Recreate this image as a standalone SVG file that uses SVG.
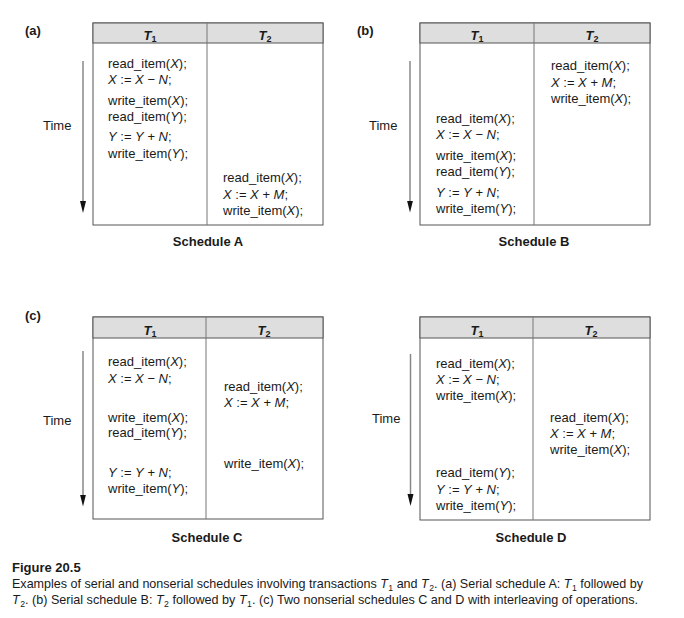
<svg xmlns="http://www.w3.org/2000/svg" width="684" height="618" viewBox="0 0 684 618">
<style>
text{font-family:"Liberation Sans",Arial,Helvetica,sans-serif;fill:#1a1a1a;font-size:13px}
.i{font-style:italic}
.b{font-weight:bold}
.hd{font-weight:bold;font-style:italic;text-anchor:middle}
.sub{font-size:9px}
.hd .sub{font-style:normal}
.frame{fill:#fff;stroke:#555;stroke-width:1}
.head{fill:#dedede;stroke:#555;stroke-width:1}
.div{stroke:#777;stroke-width:1}
.tl{stroke:#888;stroke-width:1.5;fill:none}
.cap{font-weight:bold;text-anchor:middle}
</style>
<defs>
<marker id="ah" markerUnits="userSpaceOnUse" markerWidth="12" markerHeight="8" viewBox="0 -4 12 8" refX="4" refY="0" orient="auto">
<path d="M0,-3 L12,0 L0,3 Z" fill="#111"/>
</marker>
</defs>
<rect width="684" height="618" fill="#fff"/>

<g id="connectors">
<line class="tl" x1="83" y1="61" x2="83" y2="205" marker-end="url(#ah)"/>
<line class="tl" x1="410" y1="61" x2="410" y2="204.5" marker-end="url(#ah)"/>
<line class="tl" x1="83" y1="351" x2="83" y2="498.5" marker-end="url(#ah)"/>
<line class="tl" x1="410.5" y1="354" x2="410.5" y2="498" marker-end="url(#ah)"/>
</g>

<g id="scheduleA">
<text class="b" x="25" y="35">(a)</text>
<rect class="frame" x="93" y="23" width="230" height="202"/>
<rect class="head" x="93" y="23" width="230" height="20"/>
<line class="div" x1="207" y1="23" x2="207" y2="225"/>
<text class="hd" x="150" y="39.5">T<tspan class="sub" dy="2.5">1</tspan></text>
<text class="hd" x="265" y="39.5">T<tspan class="sub" dy="2.5">2</tspan></text>
<text x="43" y="130">Time</text>
<text x="108" y="67.5">read_item(<tspan class="i">X</tspan>);</text>
<text x="108" y="84"><tspan class="i">X</tspan> := <tspan class="i">X</tspan> − <tspan class="i">N</tspan>;</text>
<text x="108" y="105">write_item(<tspan class="i">X</tspan>);</text>
<text x="108" y="121">read_item(<tspan class="i">Y</tspan>);</text>
<text x="108" y="141"><tspan class="i">Y</tspan> := <tspan class="i">Y</tspan> + <tspan class="i">N</tspan>;</text>
<text x="108" y="157.5">write_item(<tspan class="i">Y</tspan>);</text>
<text x="223" y="182">read_item(<tspan class="i">X</tspan>);</text>
<text x="223" y="198.5"><tspan class="i">X</tspan> := <tspan class="i">X</tspan> + <tspan class="i">M</tspan>;</text>
<text x="223" y="215">write_item(<tspan class="i">X</tspan>);</text>
<text class="cap" x="208" y="246">Schedule A</text>
</g>

<g id="scheduleB">
<text class="b" x="357" y="35">(b)</text>
<rect class="frame" x="420" y="23" width="230" height="202"/>
<rect class="head" x="420" y="23" width="230" height="20"/>
<line class="div" x1="534" y1="23" x2="534" y2="225"/>
<text class="hd" x="477" y="39.5">T<tspan class="sub" dy="2.5">1</tspan></text>
<text class="hd" x="592" y="39.5">T<tspan class="sub" dy="2.5">2</tspan></text>
<text x="369" y="130">Time</text>
<text x="551" y="70">read_item(<tspan class="i">X</tspan>);</text>
<text x="551" y="86.5"><tspan class="i">X</tspan> := <tspan class="i">X</tspan> + <tspan class="i">M</tspan>;</text>
<text x="551" y="103">write_item(<tspan class="i">X</tspan>);</text>
<text x="436" y="122.5">read_item(<tspan class="i">X</tspan>);</text>
<text x="436" y="138.5"><tspan class="i">X</tspan> := <tspan class="i">X</tspan> − <tspan class="i">N</tspan>;</text>
<text x="436" y="159.5">write_item(<tspan class="i">X</tspan>);</text>
<text x="436" y="176">read_item(<tspan class="i">Y</tspan>);</text>
<text x="436" y="196.5"><tspan class="i">Y</tspan> := <tspan class="i">Y</tspan> + <tspan class="i">N</tspan>;</text>
<text x="436" y="213">write_item(<tspan class="i">Y</tspan>);</text>
<text class="cap" x="534" y="246">Schedule B</text>
</g>

<g id="scheduleC">
<text class="b" x="25" y="320">(c)</text>
<rect class="frame" x="93" y="317" width="230" height="202"/>
<rect class="head" x="93" y="317" width="230" height="21"/>
<line class="div" x1="206" y1="317" x2="206" y2="519"/>
<text class="hd" x="150" y="334.5">T<tspan class="sub" dy="2.5">1</tspan></text>
<text class="hd" x="264" y="334.5">T<tspan class="sub" dy="2.5">2</tspan></text>
<text x="43" y="424.5">Time</text>
<text x="108" y="366">read_item(<tspan class="i">X</tspan>);</text>
<text x="108" y="382.5"><tspan class="i">X</tspan> := <tspan class="i">X</tspan> − <tspan class="i">N</tspan>;</text>
<text x="108" y="421.5">write_item(<tspan class="i">X</tspan>);</text>
<text x="108" y="437">read_item(<tspan class="i">Y</tspan>);</text>
<text x="108" y="477"><tspan class="i">Y</tspan> := <tspan class="i">Y</tspan> + <tspan class="i">N</tspan>;</text>
<text x="108" y="493">write_item(<tspan class="i">Y</tspan>);</text>
<text x="224" y="390.5">read_item(<tspan class="i">X</tspan>);</text>
<text x="224" y="406.5"><tspan class="i">X</tspan> := <tspan class="i">X</tspan> + <tspan class="i">M</tspan>;</text>
<text x="224" y="467.5">write_item(<tspan class="i">X</tspan>);</text>
<text class="cap" x="207" y="541.5">Schedule C</text>
</g>

<g id="scheduleD">
<rect class="frame" x="420" y="317" width="230" height="203"/>
<rect class="head" x="420" y="317" width="230" height="21"/>
<line class="div" x1="533" y1="317" x2="533" y2="520"/>
<text class="hd" x="477" y="334.5">T<tspan class="sub" dy="2.5">1</tspan></text>
<text class="hd" x="591" y="334.5">T<tspan class="sub" dy="2.5">2</tspan></text>
<text x="372" y="422.5">Time</text>
<text x="436" y="367.5">read_item(<tspan class="i">X</tspan>);</text>
<text x="436" y="384"><tspan class="i">X</tspan> := <tspan class="i">X</tspan> − <tspan class="i">N</tspan>;</text>
<text x="436" y="400">write_item(<tspan class="i">X</tspan>);</text>
<text x="550" y="422">read_item(<tspan class="i">X</tspan>);</text>
<text x="550" y="438"><tspan class="i">X</tspan> := <tspan class="i">X</tspan> + <tspan class="i">M</tspan>;</text>
<text x="550" y="453.5">write_item(<tspan class="i">X</tspan>);</text>
<text x="436" y="477">read_item(<tspan class="i">Y</tspan>);</text>
<text x="436" y="493.5"><tspan class="i">Y</tspan> := <tspan class="i">Y</tspan> + <tspan class="i">N</tspan>;</text>
<text x="436" y="509.5">write_item(<tspan class="i">Y</tspan>);</text>
<text class="cap" x="531" y="541.5">Schedule D</text>
</g>

<g id="caption">
<text class="b" x="12" y="572">Figure 20.5</text>
<text x="12" y="587.5" textLength="631" lengthAdjust="spacingAndGlyphs">Examples of serial and nonserial schedules involving transactions <tspan class="i">T</tspan><tspan class="sub" dx="0.5" dy="3">1</tspan><tspan dy="-3"> and </tspan><tspan class="i">T</tspan><tspan class="sub" dx="0.5" dy="3">2</tspan><tspan dy="-3">. (a) Serial schedule A: </tspan><tspan class="i">T</tspan><tspan class="sub" dx="0.5" dy="3">1</tspan><tspan dy="-3"> followed by</tspan></text>
<text x="12" y="603.5" textLength="626" lengthAdjust="spacingAndGlyphs"><tspan class="i">T</tspan><tspan class="sub" dx="0.5" dy="3">2</tspan><tspan dy="-3">. (b) Serial schedule B: </tspan><tspan class="i">T</tspan><tspan class="sub" dx="0.5" dy="3">2</tspan><tspan dy="-3"> followed by </tspan><tspan class="i">T</tspan><tspan class="sub" dx="0.5" dy="3">1</tspan><tspan dy="-3">. (c) Two nonserial schedules C and D with interleaving of operations.</tspan></text>
</g>
</svg>
